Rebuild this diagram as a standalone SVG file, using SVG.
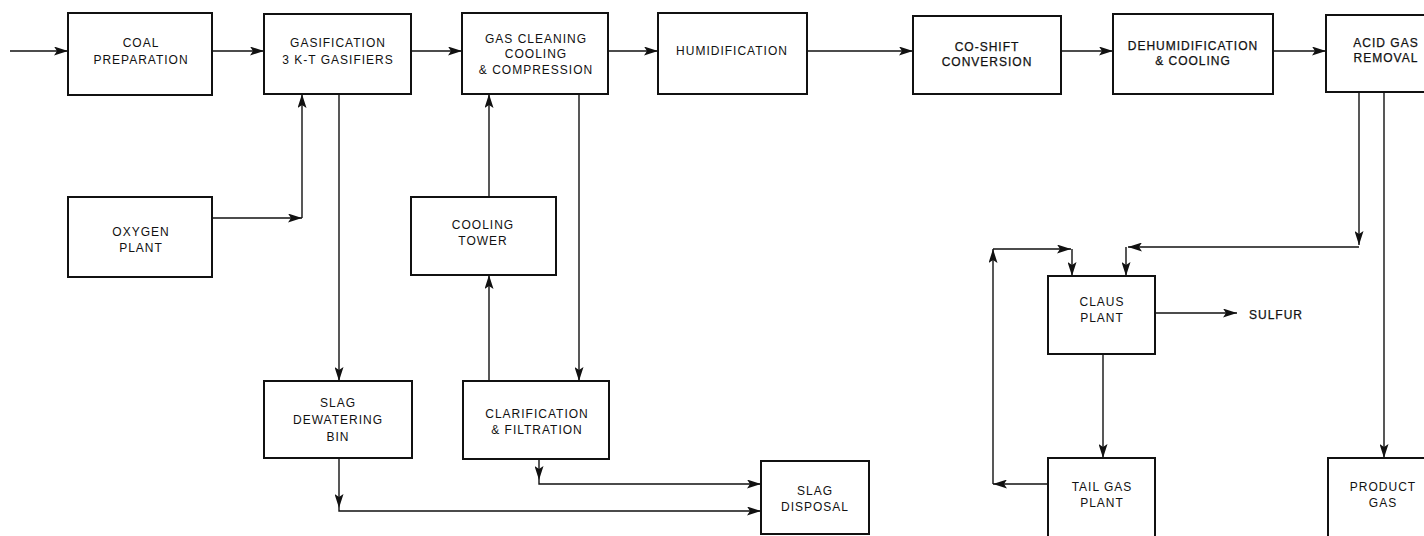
<svg xmlns="http://www.w3.org/2000/svg" width="1424" height="536" viewBox="0 0 1424 536">
<style>
.box{fill:#fff;stroke:#111;stroke-width:2}
.t{font-family:"Liberation Sans",Arial,sans-serif;font-size:12px;letter-spacing:1px;fill:#111;text-anchor:middle}
.dk{stroke:#111;stroke-width:0.25}
.c{fill:none;stroke:#111;stroke-width:1.4;marker-end:url(#ah)}
</style>
<defs>
<marker id="ah" viewBox="0 0 14 9" refX="14" refY="4.5" markerWidth="14" markerHeight="9" markerUnits="userSpaceOnUse" orient="auto">
<path d="M0,0 L14,4.5 L0,9 L3,4.5 z" fill="#111"/>
</marker>
</defs>
<rect width="1424" height="536" fill="#fff"/>
<g id="connectors">
<path class="c" d="M10,51 H68"/>
<path class="c" d="M212,51 H264"/>
<path class="c" d="M411,51 H462"/>
<path class="c" d="M608,51 H658"/>
<path class="c" d="M807,51 H913"/>
<path class="c" d="M1061,51 H1113"/>
<path class="c" d="M1273,51 H1326"/>
<path class="c" d="M212,218 H302"/>
<path class="c" d="M302,218 V94"/>
<path class="c" d="M339,94 V381"/>
<path class="c" d="M339,458 V508"/>
<path class="c" d="M339,508 V511 H761"/>
<path class="c" d="M489,197 V94"/>
<path class="c" d="M579,94 V381"/>
<path class="c" d="M489,381 V275"/>
<path class="c" d="M539,459 V480"/>
<path class="c" d="M539,480 V484 H761"/>
<path class="c" d="M1359,92 V245"/>
<path class="c" d="M1359,247 H1128"/>
<path class="c" d="M1126,247 V276"/>
<path class="c" d="M1384,92 V458"/>
<path class="c" d="M1155,313 H1237"/>
<path class="c" d="M1103,354 V458"/>
<path class="c" d="M1048,484 H993"/>
<path class="c" d="M993,484 V249"/>
<path class="c" d="M993,249 H1071"/>
<path class="c" d="M1072,249 V276"/>
</g>
<g id="coal-preparation">
<rect class="box" x="68" y="13" width="144" height="82"/>
<text class="t" x="141" y="47">COAL</text>
<text class="t" x="141" y="64">PREPARATION</text>
</g>
<g id="gasification">
<rect class="box" x="264" y="14" width="147" height="80"/>
<text class="t" x="338" y="47">GASIFICATION</text>
<text class="t" x="338" y="64">3 K-T GASIFIERS</text>
</g>
<g id="gas-cleaning">
<rect class="box" x="462" y="13" width="146" height="81"/>
<text class="t" x="536" y="43">GAS CLEANING</text>
<text class="t" x="536" y="58">COOLING</text>
<text class="t" x="536" y="74">&amp; COMPRESSION</text>
</g>
<g id="humidification">
<rect class="box" x="658" y="13" width="149" height="81"/>
<text class="t" x="732" y="55">HUMIDIFICATION</text>
</g>
<g id="co-shift">
<rect class="box" x="913" y="16" width="148" height="78"/>
<text class="t dk" x="987" y="51">CO-SHIFT</text>
<text class="t dk" x="987" y="66">CONVERSION</text>
</g>
<g id="dehumidification">
<rect class="box" x="1113" y="14" width="160" height="80"/>
<text class="t dk" x="1193" y="50">DEHUMIDIFICATION</text>
<text class="t dk" x="1193" y="65">&amp; COOLING</text>
</g>
<g id="acid-gas-removal">
<rect class="box" x="1326" y="15" width="110" height="77"/>
<text class="t dk" x="1386" y="47">ACID GAS</text>
<text class="t dk" x="1386" y="62">REMOVAL</text>
</g>
<g id="oxygen-plant">
<rect class="box" x="68" y="197" width="144" height="80"/>
<text class="t" x="141" y="236">OXYGEN</text>
<text class="t" x="141" y="252">PLANT</text>
</g>
<g id="cooling-tower">
<rect class="box" x="411" y="197" width="145" height="78"/>
<text class="t" x="483" y="229">COOLING</text>
<text class="t" x="483" y="245">TOWER</text>
</g>
<g id="slag-dewatering-bin">
<rect class="box" x="264" y="381" width="148" height="77"/>
<text class="t" x="338" y="407">SLAG</text>
<text class="t" x="338" y="424">DEWATERING</text>
<text class="t" x="338" y="441">BIN</text>
</g>
<g id="clarification">
<rect class="box" x="463" y="381" width="146" height="78"/>
<text class="t" x="537" y="418">CLARIFICATION</text>
<text class="t" x="537" y="434">&amp; FILTRATION</text>
</g>
<g id="slag-disposal">
<rect class="box" x="761" y="461" width="108" height="73"/>
<text class="t" x="815" y="495">SLAG</text>
<text class="t" x="815" y="511">DISPOSAL</text>
</g>
<g id="claus-plant">
<rect class="box" x="1048" y="276" width="107" height="78"/>
<text class="t" x="1102" y="306">CLAUS</text>
<text class="t" x="1102" y="322">PLANT</text>
</g>
<g id="sulfur">
<text class="t dk" x="1249" y="319" style="text-anchor:start">SULFUR</text>
</g>
<g id="tail-gas-plant">
<rect class="box" x="1048" y="458" width="107" height="90"/>
<text class="t" x="1102" y="491">TAIL GAS</text>
<text class="t" x="1102" y="507">PLANT</text>
</g>
<g id="product-gas">
<rect class="box" x="1328" y="458" width="110" height="90"/>
<text class="t" x="1383" y="491">PRODUCT</text>
<text class="t" x="1383" y="507">GAS</text>
</g>
</svg>
